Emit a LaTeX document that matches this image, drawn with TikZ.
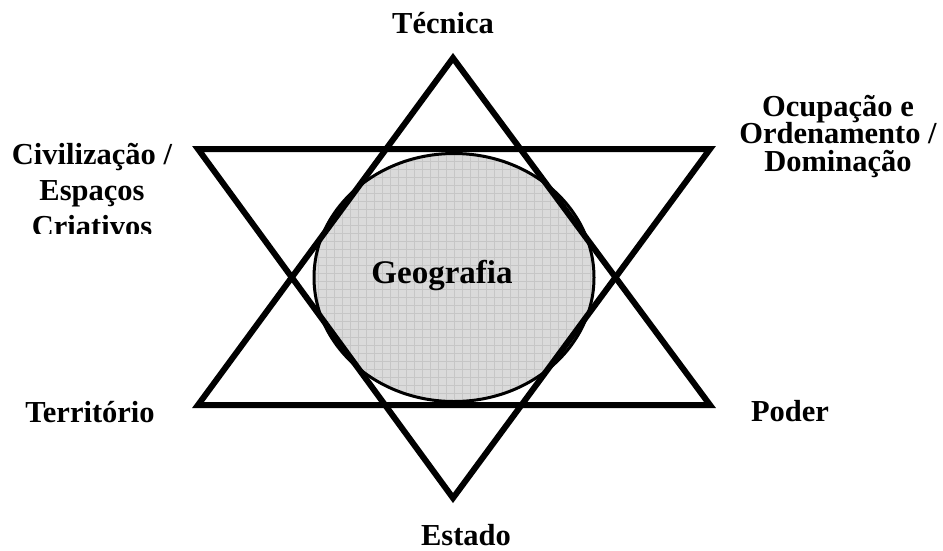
\documentclass[tikz,border=0pt]{standalone}
\usepackage{fontspec}
\setmainfont{Liberation Serif}
\newcommand\lblfont{\fontsize{30.5}{36}\selectfont\bfseries}
\newcommand\tightfont{\fontsize{30.5}{27.5}\selectfont\bfseries\lineskiplimit=-50pt}
\newcommand\geofont{\fontsize{33}{38}\selectfont\bfseries}
\definecolor{lightfill}{RGB}{218,218,218}
\definecolor{gridcol}{RGB}{198,198,198}
\definecolor{darkfill}{RGB}{172,172,172}
\tikzset{
  starline/.style={line width=6pt, line join=miter, draw=black},
  lbl/.style={font=\lblfont, anchor=base, inner sep=0pt, align=center},
  tightlbl/.style={font=\tightfont, anchor=base, inner sep=0pt, align=center},
}
\begin{document}
\begin{tikzpicture}[x=1pt,y=-1pt]
\useasboundingbox (0,0) rectangle (943,550);
% vertices
\coordinate (U1) at (453,58);
\coordinate (U2) at (198,405);
\coordinate (U3) at (710,405);
\coordinate (D1) at (198,149);
\coordinate (D2) at (710,149);
\coordinate (D3) at (453,498);
\coordinate (C) at (454,277.5);
% ellipse fill
\fill[darkfill] (C) ellipse [x radius=140, y radius=124];
\begin{scope}
  \clip (C) ellipse [x radius=140, y radius=124];
  \clip (U1) -- (U2) -- (U3) -- cycle;
  \fill[lightfill] (D1) -- (D2) -- (D3) -- cycle;
\end{scope}
\begin{scope}
  \clip (C) ellipse [x radius=140, y radius=124];
  \foreach \x in {310,318,...,600} \draw[gridcol, line width=0.6pt] (\x,150) -- (\x,405);
  \foreach \y in {153,161,...,405} \draw[gridcol, line width=0.6pt] (310,\y) -- (600,\y);
\end{scope}
\draw[line width=3pt] (C) ellipse [x radius=140, y radius=124];
% star
\draw[starline] (U1) -- (U2) -- (U3) -- cycle;
\draw[starline] (D1) -- (D2) -- (D3) -- cycle;
% labels
\node[lbl, font=\geofont] (geo) at (442,283) {Geografia};
\node[lbl] (tec) at (443,33) {Técnica};
\node[lbl] (est) at (466,545) {Estado};
\node[lbl] (ter) at (90,422) {Território};
\node[lbl] (pod) at (790,421) {Poder};
\node[tightlbl] (ocu) at (838,171) {Ocupação e\\Ordenamento /\\Dominação};
\begin{scope}
  \clip (0,0) rectangle (190,233);
  \node[lbl] (civ) at (92,236) {Civilização /\\Espaços\\Criativos};
\end{scope}
\end{tikzpicture}
\end{document}
